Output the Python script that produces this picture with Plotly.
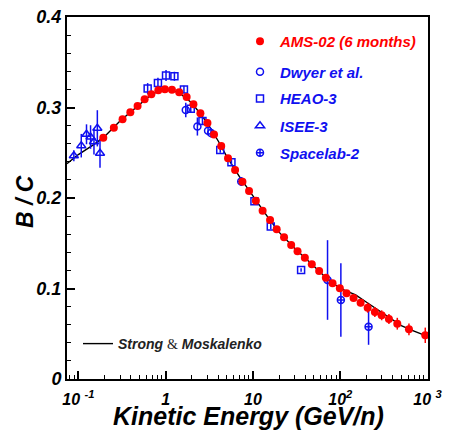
import plotly.graph_objects as go

# ---------------- data ----------------
ams_energy = [0.193, 0.255, 0.321, 0.394, 0.477, 0.574, 0.686, 0.824, 0.98, 1.18,
              1.43, 1.74, 2.08, 2.50, 3.01, 3.58, 4.33, 5.18, 6.24, 7.58,
              9.02, 10.8, 12.9, 15.7, 18.7, 22.7, 27.4, 32.4, 39.3, 47.2,
              57.3, 68.4, 81.6, 98.9, 118, 142, 171, 206, 249, 298,
              361, 450, 612, 941]
ams_bc = [0.2666, 0.2777, 0.2870, 0.2947, 0.3017, 0.3091, 0.3146, 0.3190, 0.3201, 0.3197,
          0.3168, 0.3116, 0.3035, 0.2936, 0.2829, 0.2702, 0.2575, 0.2439, 0.2309, 0.2180,
          0.2077, 0.1970, 0.1860, 0.1757, 0.1654, 0.1566, 0.1481, 0.1411, 0.1340, 0.1267,
          0.1193, 0.1119, 0.1057, 0.1002, 0.0947, 0.0895, 0.0843, 0.0788, 0.0740, 0.0704,
          0.0663, 0.0611, 0.0549, 0.0483]
ams_err = [0.001] * 34 + [0.002, 0.003, 0.004, 0.0055, 0.0055, 0.0055, 0.0055, 0.0065, 0.0065, 0.0085]

dwyer_energy = [1.70, 2.31, 3.06, 3.31]
dwyer_bc = [0.2972, 0.279, 0.2744, 0.2718]
dwyer_err = [0.008, 0.010, 0.005, 0.005]

heao_energy = [0.622, 0.816, 1.01, 1.26, 1.62, 1.94, 2.64, 4.22, 5.67, 10.4, 16.0, 35.6]
heao_bc = [0.321, 0.327, 0.3354, 0.3345, 0.3199, 0.2987, 0.2851, 0.253, 0.2394, 0.1963, 0.1685, 0.1204]
heao_err = [0.006, 0.006, 0.006, 0.005, 0.004, 0.004, 0.004, 0.003, 0.003, 0.003, 0.003, 0.002]

isee_energy = [0.0888, 0.108, 0.124, 0.138, 0.151, 0.165, 0.177]
isee_bc = [0.2467, 0.2578, 0.2704, 0.2674, 0.2622, 0.2770, 0.2494]
isee_err = [0.006, 0.013, 0.011, 0.013, 0.014, 0.020, 0.016]

spacelab_energy = [7.34, 71.5, 101.6, 211]
spacelab_bc = [0.2182, 0.1094, 0.0873, 0.0578]
spacelab_err = [0.005, 0.044, 0.0405, 0.020]

model_energy = [0.074, 0.1, 0.15, 0.2, 0.3, 0.4, 0.5, 0.7, 1.0, 1.4, 2.0, 3.0, 4.0, 5.0, 7.0,
                10, 15, 20, 30, 50, 70, 100, 150, 200, 300, 500, 700, 1000]
model_bc = [0.238, 0.248, 0.259, 0.268, 0.285, 0.295, 0.303, 0.315, 0.320, 0.317, 0.305, 0.283,
            0.263, 0.246, 0.2235, 0.202, 0.178, 0.162, 0.1445, 0.1245, 0.111, 0.100, 0.0930,
            0.0848, 0.0738, 0.0590, 0.0530, 0.0470]

x_tickvals = [0.1, 1, 10, 100, 1000]
x_ticktext = ["10 <sup>-1</sup>", "1", "10", "10<sup>2</sup>", "10 <sup>3</sup>"]

# ---------------- style ----------------
RED = "#ff0000"
BLUE = "#1010f0"
FONT = "Liberation Sans, Arial, sans-serif"

fig = go.Figure()

fig.add_trace(go.Scatter(
    x=model_energy, y=model_bc, mode="lines",
    name="Strong <span style='font-family:Liberation Serif;font-style:normal;font-weight:normal'>&amp;</span> Moskalenko",
    line=dict(color="black", width=1.4), legend="legend6"))

def blue_trace(xs, ys, es, symbol, size, name, leg):
    fig.add_trace(go.Scatter(
        x=xs, y=ys, mode="markers", name=name, legend=leg,
        marker=dict(symbol=symbol, size=size, color=BLUE,
                    line=dict(color=BLUE, width=1.5)),
        error_y=dict(type="data", array=es, color=BLUE, thickness=1.5, width=0)))

blue_trace(dwyer_energy, dwyer_bc, dwyer_err, "circle-open", 7, "Dwyer et al.", "legend2")
blue_trace(heao_energy, heao_bc, heao_err, "square-open", 7, "HEAO-3", "legend3")
blue_trace(isee_energy, isee_bc, isee_err, "triangle-up-open", 8, "ISEE-3", "legend4")
blue_trace(spacelab_energy, spacelab_bc, spacelab_err, "circle-cross-open", 7, "Spacelab-2", "legend5")

fig.add_trace(go.Scatter(
    x=ams_energy, y=ams_bc, mode="markers", name="AMS-02 (6 months)", legend="legend",
    marker=dict(symbol="circle", size=8, color=RED, line=dict(width=0)),
    error_y=dict(type="data", array=ams_err, color=RED, thickness=1.5, width=0)))

L, R, T, B = 67, 21, 17, 55
W, H = 449, 434
pw, ph = W - L - R, H - T - B

def px2paper(px, py):
    return (px - L) / pw, (H - B - py) / ph

def leg(px, py, color, size=15):
    x, y = px2paper(px, py)
    return dict(x=x, y=y, xanchor="left", yanchor="middle", bgcolor="rgba(0,0,0,0)",
                borderwidth=0, itemwidth=30,
                font=dict(family=FONT, size=size, color=color, weight="bold", style="italic"))

fig.update_layout(
    width=W, height=H,
    margin=dict(l=L, r=R, t=T, b=B),
    paper_bgcolor="white", plot_bgcolor="white",
    showlegend=True,
    legend=leg(240, 41.5, RED),
    legend2=leg(240, 72, BLUE),
    legend3=leg(240, 98.7, BLUE),
    legend4=leg(240, 126, BLUE),
    legend5=leg(240, 153, BLUE),
    legend6=leg(78, 344, "#222222", 14),
    xaxis=dict(type="log", range=[-1.13, 3.005], showgrid=False, zeroline=False, automargin=False,
               showline=True, linecolor="black", linewidth=2, mirror=True,
               ticks="inside", ticklen=8, tickwidth=1.5, tickcolor="black",
               tickvals=x_tickvals, ticktext=x_ticktext, ticklabelstandoff=5,
               tickfont=dict(family=FONT, size=16, color="black", weight="bold", style="italic"),
               minor=dict(ticks="inside", ticklen=4, tickwidth=1.2, tickcolor="black", dtick="D1", showgrid=False)),
    yaxis=dict(range=[0, 0.4], showgrid=False, zeroline=False, automargin=False,
               showline=True, linecolor="black", linewidth=2, mirror=True,
               ticks="inside", ticklen=8, tickwidth=1.5, tickcolor="black",
               tickvals=[0, 0.1, 0.2, 0.3, 0.4], ticktext=["0", "0.1", "0.2", "0.3", "0.4"],
               tickfont=dict(family=FONT, size=18, color="black", weight="bold", style="italic"),
               minor=dict(ticks="inside", ticklen=4, tickwidth=1.2, tickcolor="black", dtick=0.02, showgrid=False)),
)

fig.add_annotation(text="Kinetic Energy (GeV/n)", xref="paper", yref="paper",
                   x=px2paper(248, 0)[0], y=px2paper(0, 416)[1], xanchor="center", yanchor="middle",
                   showarrow=False, font=dict(family=FONT, size=25, color="black", weight="bold", style="italic"))
fig.add_annotation(text="B / C", xref="paper", yref="paper", textangle=-90,
                   x=px2paper(25, 0)[0], y=px2paper(0, 202)[1], xanchor="center", yanchor="middle",
                   showarrow=False, font=dict(family=FONT, size=23, color="black", weight="bold", style="italic"))

fig.write_html("out.html", config={"displayModeBar": False},
               post_script="document.body.style.margin='0';")
